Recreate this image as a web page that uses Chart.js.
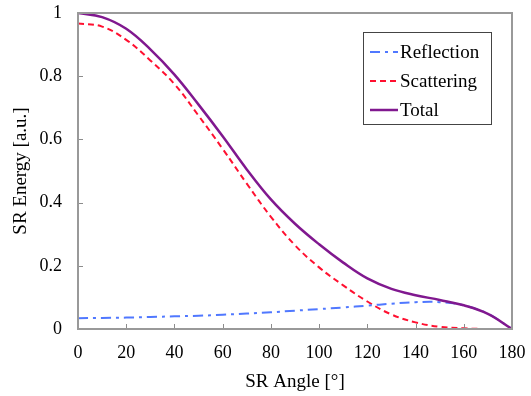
<!DOCTYPE html>
<html>
<head>
<meta charset="utf-8">
<script src="https://cdn.jsdelivr.net/npm/chart.js@4/dist/chart.umd.min.js"></script>
<style>
  html, body { margin: 0; padding: 0; background: #fff; }
  #wrap { width: 531px; height: 396px; }
</style>
</head>
<body>
<div id="wrap"><canvas id="chart"></canvas></div>
<script>
// ── 데이터 ────────────────────────────────────────────────
const angles     = [0, 10, 20, 30, 40, 50, 60, 70, 80, 90, 100, 110, 120, 130, 140, 150, 160, 170, 180];
const reflection = [0.034, 0.035, 0.036, 0.038, 0.040, 0.042, 0.045, 0.049, 0.053, 0.058, 0.063, 0.068, 0.074, 0.080, 0.085, 0.085, 0.075, 0.048, 0.0];
const scattering = [0.967, 0.957, 0.915, 0.85, 0.775, 0.675, 0.57, 0.46, 0.355, 0.265, 0.195, 0.138, 0.087, 0.046, 0.021, 0.007, 0.002, 0.0, 0.0];
const total      = [1.0, 0.987, 0.95, 0.885, 0.805, 0.71, 0.61, 0.505, 0.41, 0.333, 0.268, 0.21, 0.16, 0.127, 0.107, 0.092, 0.075, 0.048, 0.0];
const xTicks     = [0, 20, 40, 60, 80, 100, 120, 140, 160, 180];
const yTicks     = [0, 0.2, 0.4, 0.6, 0.8, 1];

const FONT = "'Liberation Serif', 'Times New Roman', serif";

// ── 테두리 + 안쪽 눈금 ─────────────────────────────────────
const frame = {
  id: "frame",
  afterDatasetsDraw(chart) {
    const { ctx, chartArea: a, scales } = chart;
    ctx.save();
    ctx.strokeStyle = "#8c8c8c";
    ctx.lineWidth = 1;
    xTicks.forEach(v => {
      const px = Math.round(scales.x.getPixelForValue(v)) + 0.5;
      ctx.beginPath(); ctx.moveTo(px, a.bottom); ctx.lineTo(px, a.bottom - 5); ctx.stroke();
    });
    yTicks.forEach(v => {
      const py = Math.round(scales.y.getPixelForValue(v)) + 0.5;
      ctx.beginPath(); ctx.moveTo(a.left, py); ctx.lineTo(a.left + 5, py); ctx.stroke();
    });
    ctx.lineWidth = 2;
    ctx.strokeStyle = "#999";
    ctx.strokeRect(a.left, a.top, a.right - a.left, a.bottom - a.top);
    ctx.restore();
  },
};

// ── 범례 상자 ─────────────────────────────────────────────
const boxLegend = {
  id: "boxLegend",
  afterDraw(chart) {
    const { ctx, chartArea: a } = chart;
    const left = a.right - 149, top = a.top + 19, w = 128, h = 92;
    ctx.save();
    ctx.fillStyle = "#fff";
    ctx.fillRect(left, top, w, h);
    ctx.strokeStyle = "#444";
    ctx.lineWidth = 1;
    ctx.strokeRect(left + 0.5, top + 0.5, w, h);
    ctx.font = "19px " + FONT;
    ctx.textBaseline = "middle";
    ctx.fillStyle = "#000";
    chart.data.datasets.forEach((ds, i) => {
      const y = top + 20 + i * 29;
      ctx.strokeStyle = ds.borderColor;
      ctx.lineWidth = ds.borderWidth;
      ctx.setLineDash(ds.borderDash || []);
      ctx.beginPath(); ctx.moveTo(left + 7, y); ctx.lineTo(left + 35, y); ctx.stroke();
      ctx.setLineDash([]);
      ctx.fillText(ds.label, left + 37, y + 1);
    });
    ctx.restore();
  },
};

new Chart(document.getElementById("chart"), {
  type: "line",
  data: {
    labels: angles,
    datasets: [
      { label: "Reflection", data: reflection, borderColor: "#5078ff", borderWidth: 2, borderDash: [10, 5, 3, 5], order: 1 },
      { label: "Scattering", data: scattering, borderColor: "#ff1030", borderWidth: 2, borderDash: [6, 4], order: 1 },
      { label: "Total",      data: total,      borderColor: "#80188f", borderWidth: 2.5, order: 0 },
    ].map(ds => ({ ...ds, pointRadius: 0, fill: false, tension: 0.4 })),
  },
  options: {
    responsive: true,
    maintainAspectRatio: false,
    animation: false,
    layout: { padding: { left: 0, right: 19, top: 13, bottom: 0 } },
    plugins: { legend: { display: false }, tooltip: { enabled: false } },
    scales: {
      x: {
        type: "linear",
        min: 0, max: 180,
        afterBuildTicks: s => { s.ticks = xTicks.map(v => ({ value: v })); },
        afterFit: s => { s.height = 67; s.paddingLeft = 0; s.paddingRight = 0; },
        grid: { display: false, drawTicks: false },
        border: { display: false },
        ticks: { color: "#000", padding: 13, font: { family: FONT, size: 18 }, maxRotation: 0 },
        title: { display: true, text: "SR Angle [°]", color: "#000", font: { family: FONT, size: 19, lineHeight: 1.2 }, padding: { top: 0, bottom: 3 } },
      },
      y: {
        min: 0, max: 1,
        afterBuildTicks: s => { s.ticks = yTicks.map(v => ({ value: v })); },
        afterFit: s => { s.width = 78; s.paddingTop = 0; s.paddingBottom = 0; },
        grid: { display: false, drawTicks: false },
        border: { display: false },
        ticks: { color: "#000", padding: 16, font: { family: FONT, size: 18 }, callback: v => String(v) },
        title: { display: true, text: "SR Energy [a.u.]", color: "#000", font: { family: FONT, size: 19, lineHeight: 1.2 }, padding: { top: 10, bottom: 0 } },
      },
    },
  },
  plugins: [frame, boxLegend],
});
</script>
</body>
</html>
